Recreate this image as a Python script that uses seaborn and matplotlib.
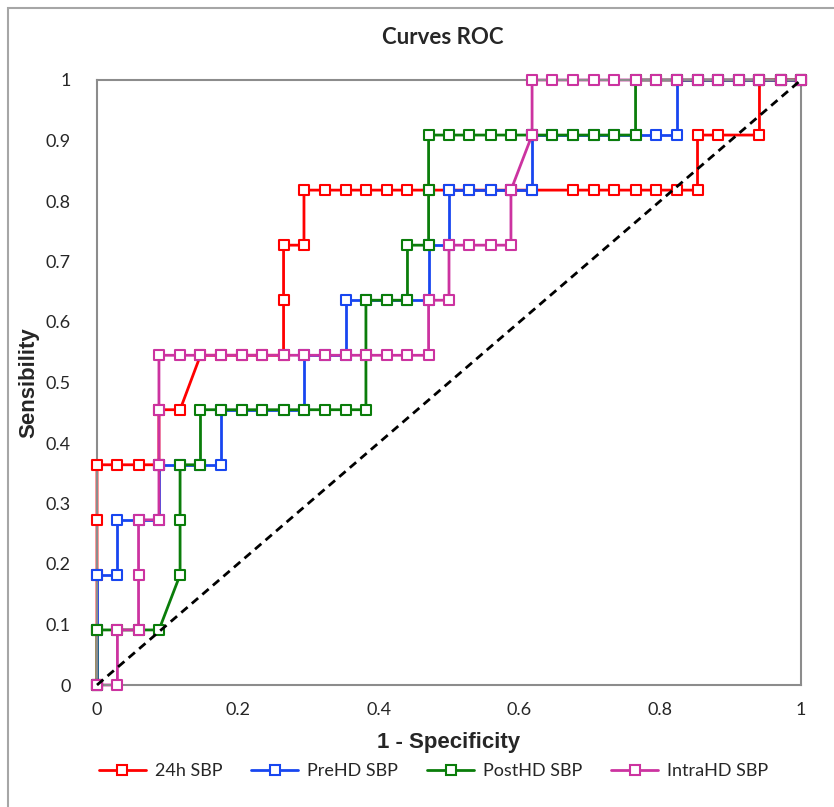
import pandas as pd
import matplotlib.pyplot as plt
import seaborn as sns
from matplotlib.lines import Line2D
from matplotlib.patches import Rectangle

# ROC points: (1 - specificity, sensitivity)
roc_24h = [(0, 0), (0, 0.091), (0, 0.182), (0, 0.273), (0, 0.364), (0.029, 0.364), (0.059, 0.364),
           (0.088, 0.364), (0.088, 0.455), (0.118, 0.455), (0.147, 0.545), (0.176, 0.545), (0.206, 0.545),
           (0.235, 0.545), (0.265, 0.545), (0.265, 0.636), (0.265, 0.727), (0.294, 0.727), (0.294, 0.818),
           (0.324, 0.818), (0.353, 0.818), (0.382, 0.818), (0.412, 0.818), (0.441, 0.818), (0.471, 0.818),
           (0.5, 0.818), (0.529, 0.818), (0.559, 0.818), (0.588, 0.818), (0.618, 0.818), (0.676, 0.818),
           (0.706, 0.818), (0.735, 0.818), (0.765, 0.818), (0.794, 0.818), (0.824, 0.818), (0.853, 0.818),
           (0.853, 0.909), (0.882, 0.909), (0.941, 0.909), (0.941, 1), (0.971, 1), (1, 1)]

roc_prehd = [(0, 0), (0, 0.091), (0, 0.182), (0.029, 0.182), (0.029, 0.273), (0.059, 0.273), (0.088, 0.273),
             (0.088, 0.364), (0.118, 0.364), (0.147, 0.364), (0.176, 0.364), (0.176, 0.455), (0.206, 0.455),
             (0.235, 0.455), (0.265, 0.455), (0.294, 0.455), (0.294, 0.545), (0.324, 0.545), (0.353, 0.545),
             (0.353, 0.636), (0.382, 0.636), (0.412, 0.636), (0.441, 0.636), (0.471, 0.636), (0.471, 0.727),
             (0.5, 0.727), (0.5, 0.818), (0.529, 0.818), (0.559, 0.818), (0.588, 0.818), (0.618, 0.818),
             (0.618, 0.909), (0.647, 0.909), (0.676, 0.909), (0.706, 0.909), (0.735, 0.909), (0.765, 0.909),
             (0.794, 0.909), (0.824, 0.909), (0.824, 1), (0.853, 1), (0.882, 1), (0.912, 1), (0.941, 1),
             (0.971, 1), (1, 1)]

roc_posthd = [(0, 0), (0, 0.091), (0.029, 0.091), (0.059, 0.091), (0.088, 0.091), (0.118, 0.182),
              (0.118, 0.273), (0.118, 0.364), (0.147, 0.364), (0.147, 0.455), (0.176, 0.455), (0.206, 0.455),
              (0.235, 0.455), (0.265, 0.455), (0.294, 0.455), (0.324, 0.455), (0.353, 0.455), (0.382, 0.455),
              (0.382, 0.545), (0.382, 0.636), (0.412, 0.636), (0.441, 0.636), (0.441, 0.727), (0.471, 0.727),
              (0.471, 0.818), (0.471, 0.909), (0.5, 0.909), (0.529, 0.909), (0.559, 0.909), (0.588, 0.909),
              (0.618, 0.909), (0.647, 0.909), (0.676, 0.909), (0.706, 0.909), (0.735, 0.909), (0.765, 0.909),
              (0.765, 1), (0.794, 1), (0.824, 1), (0.853, 1), (0.882, 1), (0.912, 1), (0.941, 1),
              (0.971, 1), (1, 1)]

roc_intrahd = [(0, 0), (0.029, 0), (0.029, 0.091), (0.059, 0.091), (0.059, 0.182), (0.059, 0.273),
               (0.088, 0.273), (0.088, 0.364), (0.088, 0.455), (0.088, 0.545), (0.118, 0.545), (0.147, 0.545),
               (0.176, 0.545), (0.206, 0.545), (0.235, 0.545), (0.265, 0.545), (0.294, 0.545), (0.324, 0.545),
               (0.353, 0.545), (0.382, 0.545), (0.412, 0.545), (0.441, 0.545), (0.471, 0.545), (0.471, 0.636),
               (0.5, 0.636), (0.5, 0.727), (0.529, 0.727), (0.559, 0.727), (0.588, 0.727), (0.588, 0.818),
               (0.618, 0.909), (0.618, 1), (0.647, 1), (0.676, 1), (0.706, 1), (0.735, 1), (0.765, 1),
               (0.794, 1), (0.824, 1), (0.853, 1), (0.882, 1), (0.912, 1), (0.941, 1), (0.971, 1), (1, 1)]

series_names = ['24h SBP', 'PreHD SBP', 'PostHD SBP', 'IntraHD SBP']
series_points = [roc_24h, roc_prehd, roc_posthd, roc_intrahd]
series_colors = ['#FF0000', '#1846F0', '#0A7D0A', '#CC33A0']

sns.set_style('white')
plt.rcParams['font.family'] = ['Lato', 'DejaVu Sans']

fig = plt.figure(figsize=(8.34, 8.07), dpi=100)
ax = fig.add_axes([97 / 834, 1 - 685 / 807, 704 / 834, 605 / 807])

# outer chart border
fig.patches.append(Rectangle((8 / 834, -0.01), 1.0, 1 - 8 / 807 + 0.01, transform=fig.transFigure,
                             fill=False, edgecolor='#A6A6A6', linewidth=1.5))

# lines first, markers on top (Excel style)
for i, (name, pts, col) in enumerate(zip(series_names, series_points, series_colors)):
    df = pd.DataFrame(pts, columns=['fpr', 'tpr'])
    sns.lineplot(data=df, x='fpr', y='tpr', sort=False, estimator=None, color=col,
                 linewidth=2.0, ax=ax, zorder=2 + i * 0.01, clip_on=False)
for i, (name, pts, col) in enumerate(zip(series_names, series_points, series_colors)):
    df = pd.DataFrame(pts, columns=['fpr', 'tpr'])
    sns.scatterplot(data=df, x='fpr', y='tpr', marker='s', s=60, facecolor='white',
                    edgecolor=col, linewidth=1.5, ax=ax, zorder=3 + i * 0.01, clip_on=False)

ax.plot([0, 1], [0, 1], linestyle=(0, (3, 2)), color='black', linewidth=2.0, zorder=5, clip_on=False)

ax.set_xlim(0, 1)
ax.set_ylim(0, 1)
ax.set_xticks([0, 0.2, 0.4, 0.6, 0.8, 1])
ax.set_xticklabels(['0', '0.2', '0.4', '0.6', '0.8', '1'])
ax.set_yticks([i / 10 for i in range(11)])
ax.set_yticklabels(['0', '0.1', '0.2', '0.3', '0.4', '0.5', '0.6', '0.7', '0.8', '0.9', '1'])
ax.tick_params(axis='both', direction='inout', length=10, width=1.2, color='#8C8C8C',
               labelsize=13)
ax.tick_params(axis='y', pad=14)
ax.tick_params(axis='x', pad=7)
for sp in ax.spines.values():
    sp.set_color('#8C8C8C')
    sp.set_linewidth(1.5)

ax.set_xlabel('1 - Specificity', fontsize=16, fontweight='bold', labelpad=10,
              family=['Liberation Sans', 'DejaVu Sans'])
ax.set_ylabel('Sensibility', fontsize=16, fontweight='bold',
              family=['Liberation Sans', 'DejaVu Sans'])
ax.yaxis.set_label_coords(-0.082, 0.5)
fig.text(443 / 834, 1 - 38 / 807, 'Curves ROC', fontsize=16, fontweight='bold',
         ha='center', va='center')

handles = [Line2D([0], [0], color=c, linewidth=2.0, marker='s', markersize=7,
                  markerfacecolor='white', markeredgecolor=c, markeredgewidth=1.5)
           for c in series_colors]
fig.legend(handles, series_names, loc='center', bbox_to_anchor=(0.52, 1 - 771 / 807), ncol=4,
           frameon=False, prop={'size': 13},
           handlelength=2.6, columnspacing=1.6, handletextpad=0.5)

fig.savefig('out.png', dpi=100, facecolor='white')
